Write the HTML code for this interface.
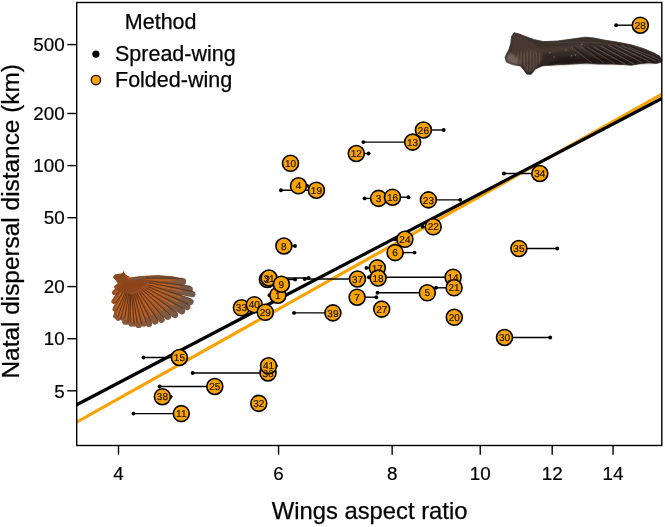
<!DOCTYPE html>
<html><head><meta charset="utf-8"><title>Wings aspect ratio vs natal dispersal distance</title>
<style>html,body{margin:0;padding:0;background:#fff}svg{display:block}</style></head>
<body>
<svg width="665" height="527" viewBox="0 0 665 527">
<rect width="665" height="527" fill="#fff"/>
<defs>
<filter id="bl" x="-5%" y="-5%" width="110%" height="110%"><feGaussianBlur stdDeviation="0.55"/></filter>
<filter id="bl3" x="-10%" y="-10%" width="120%" height="120%"><feGaussianBlur stdDeviation="1.1"/></filter>
<filter id="bl2" x="-5%" y="-5%" width="110%" height="110%"><feGaussianBlur stdDeviation="0.5"/></filter>
<linearGradient id="dg" x1="0" y1="0" x2="0" y2="1"><stop offset="0" stop-color="#41352f"/><stop offset="0.45" stop-color="#352b27"/><stop offset="1" stop-color="#261e1b"/></linearGradient>
<radialGradient id="sg" gradientUnits="userSpaceOnUse" cx="128" cy="281" r="70"><stop offset="0" stop-color="#964819"/><stop offset="0.45" stop-color="#99532a"/><stop offset="0.72" stop-color="#80583f"/><stop offset="1" stop-color="#705a4d"/></radialGradient>
</defs>
<g filter="url(#bl2)">
<path d="M514.1,32.7 L519.2,34.0 L525.6,36.5 L534.5,39.7 L543.5,41.6 L557.5,41.0 L571.6,39.1 L585.0,37.2 L592.8,37.8 L605.6,40.3 L618.4,42.3 L631.2,44.8 L643.9,48.7 L654.2,53.1 L659.9,56.3 L661.4,60.0 L661.2,62.1 L656.7,63.4 L649.1,62.7 L641.4,63.4 L631.2,65.3 L623.5,64.6 L612.0,64.0 L599.2,64.0 L586.4,63.1 L571.6,64.0 L557.5,64.6 L542.2,65.9 L535.2,69.1 L531.3,74.2 L526.9,74.2 L523.7,69.8 L520.5,65.9 L512.8,64.6 L506.4,62.1 L505.1,57.0 L509.0,49.3 L510.9,42.9 L511.5,36.5Z" fill="url(#dg)" stroke="#3a2f2b" stroke-width="0.8" stroke-linejoin="round"/>
<g filter="url(#bl3)">
<path d="M514,35 L522,37 L532,42 L540,47 L560,46 L585,43 L585,50 L560,52 L538,54 L530,60 L524,62 L514,58 L511,50 L512,42Z" fill="#4a3b35" opacity="0.8"/>
<path d="M506,57 L510,52 L515,56 L521,60 L520,65 L512.8,64.2 L506.8,61.8Z" fill="#75655f" opacity="0.9"/>
<path d="M517,54 L528,50 L541,52 L543,58 L538,66 L533,71 L528,73 L524,68 L520,63Z" fill="#5b473e" opacity="0.85"/>
<path d="M560,58 L600,57 L640,58 L658,60 L656,63 L620,64 L580,63.5 L548,65Z" fill="#1d1613" opacity="0.7"/>
</g>
<line x1="518.0" y1="51.0" x2="517.6" y2="65.7" stroke="#6a564c" stroke-width="0.8" opacity="0.6"/>
<line x1="519.5" y1="52.4" x2="518.6" y2="66.1" stroke="#2c221e" stroke-width="0.8" opacity="0.6"/>
<line x1="521.1" y1="50.1" x2="520.5" y2="67.2" stroke="#6a564c" stroke-width="0.8" opacity="0.6"/>
<line x1="522.6" y1="50.9" x2="522.4" y2="68.0" stroke="#2c221e" stroke-width="0.8" opacity="0.6"/>
<line x1="524.2" y1="53.3" x2="524.2" y2="65.4" stroke="#6a564c" stroke-width="0.8" opacity="0.6"/>
<line x1="525.8" y1="50.6" x2="526.1" y2="66.2" stroke="#2c221e" stroke-width="0.8" opacity="0.6"/>
<line x1="527.3" y1="52.1" x2="527.3" y2="70.7" stroke="#6a564c" stroke-width="0.8" opacity="0.6"/>
<line x1="528.9" y1="50.3" x2="528.7" y2="70.8" stroke="#2c221e" stroke-width="0.8" opacity="0.6"/>
<line x1="530.4" y1="51.2" x2="530.7" y2="67.2" stroke="#6a564c" stroke-width="0.8" opacity="0.6"/>
<line x1="532.0" y1="51.9" x2="532.3" y2="70.6" stroke="#2c221e" stroke-width="0.8" opacity="0.6"/>
<line x1="533.5" y1="52.9" x2="533.1" y2="71.6" stroke="#6a564c" stroke-width="0.8" opacity="0.6"/>
<line x1="535.0" y1="53.2" x2="535.5" y2="65.2" stroke="#2c221e" stroke-width="0.8" opacity="0.6"/>
<line x1="536.6" y1="53.5" x2="535.8" y2="63.5" stroke="#6a564c" stroke-width="0.8" opacity="0.6"/>
<line x1="538.1" y1="50.9" x2="537.8" y2="67.8" stroke="#2c221e" stroke-width="0.8" opacity="0.6"/>
<line x1="539.7" y1="52.5" x2="539.5" y2="64.5" stroke="#6a564c" stroke-width="0.8" opacity="0.6"/>
<line x1="541.2" y1="51.5" x2="541.1" y2="64.8" stroke="#2c221e" stroke-width="0.8" opacity="0.6"/>
<circle cx="549.9" cy="52.5" r="0.7" fill="#8d827c" opacity="0.8"/>
<circle cx="571.6" cy="55.7" r="0.7" fill="#8d827c" opacity="0.8"/>
<circle cx="575.4" cy="55" r="0.7" fill="#8d827c" opacity="0.8"/>
<circle cx="581.8" cy="44.2" r="0.7" fill="#8d827c" opacity="0.8"/>
<circle cx="554" cy="57" r="0.7" fill="#8d827c" opacity="0.8"/>
<circle cx="566" cy="50" r="0.7" fill="#8d827c" opacity="0.8"/>
<line x1="622" y1="45.5" x2="656" y2="61" stroke="#756b62" stroke-width="0.9" opacity="0.75"/>
<line x1="625" y1="45.5" x2="659" y2="61" stroke="#15110f" stroke-width="1.2" opacity="0.5"/>
<line x1="615" y1="45" x2="650" y2="62" stroke="#756b62" stroke-width="0.9" opacity="0.75"/>
<line x1="618" y1="45" x2="653" y2="62" stroke="#15110f" stroke-width="1.2" opacity="0.5"/>
<line x1="608" y1="45" x2="642" y2="62.5" stroke="#756b62" stroke-width="0.9" opacity="0.75"/>
<line x1="611" y1="45" x2="645" y2="62.5" stroke="#15110f" stroke-width="1.2" opacity="0.5"/>
<line x1="601" y1="46" x2="634" y2="64" stroke="#756b62" stroke-width="0.9" opacity="0.75"/>
<line x1="604" y1="46" x2="637" y2="64" stroke="#15110f" stroke-width="1.2" opacity="0.5"/>
<line x1="594" y1="47" x2="625" y2="64" stroke="#756b62" stroke-width="0.9" opacity="0.75"/>
<line x1="597" y1="47" x2="628" y2="64" stroke="#15110f" stroke-width="1.2" opacity="0.5"/>
<line x1="587" y1="47" x2="615" y2="63.5" stroke="#756b62" stroke-width="0.9" opacity="0.5"/>
<line x1="590" y1="47" x2="618" y2="63.5" stroke="#15110f" stroke-width="1.2" opacity="0.5"/>
<line x1="628" y1="46.5" x2="660" y2="60" stroke="#756b62" stroke-width="0.9" opacity="0.5"/>
<line x1="631" y1="46.5" x2="663" y2="60" stroke="#15110f" stroke-width="1.2" opacity="0.5"/>
<line x1="580" y1="46" x2="604" y2="63" stroke="#756b62" stroke-width="0.9" opacity="0.5"/>
<line x1="583" y1="46" x2="607" y2="63" stroke="#15110f" stroke-width="1.2" opacity="0.5"/>
<line x1="571" y1="47" x2="592" y2="63" stroke="#756b62" stroke-width="0.9" opacity="0.5"/>
<line x1="574" y1="47" x2="595" y2="63" stroke="#15110f" stroke-width="1.2" opacity="0.5"/>
<path d="M545,44 Q570,41 600,43 Q630,47 655,57" fill="none" stroke="#4d433e" stroke-width="1.2" opacity="0.7"/>
</g>
<g filter="url(#bl)">
<path d="M113.0,277.0 L115.6,274.3 L122.3,273.6 L123.6,271.0 L124.9,274.3 L130.2,277.6 L138.2,276.3 L148.8,275.4 L158.3,275.0 L171.6,276.3 L180.9,278.3 L174.6,281.5 L179.8,287.9 L182.0,292.1 L180.4,298.4 L177.8,302.8 L173.4,306.4 L167.6,309.6 L161.8,311.2 L156.5,313.9 L151.2,315.5 L145.8,317.6 L141.6,317.4 L137.2,318.7 L133.6,317.5 L130.9,317.6 L127.6,316.0 L125.5,316.0 L122.8,312.6 L119.7,312.8 L117.4,311.0 L116.8,305.4 L115.6,299.0 L115.6,291.6 L117.2,286.8 L117.6,282.9 L115.0,279.6Z" fill="url(#sg)"/>
<path d="M130,278 Q150,274.5 171.6,276.3 L180.9,278.3 L186.2,281.6 L175,281 Q150,279 130,281Z" fill="#7a5238"/>
<line x1="145.5" y1="281.2" x2="182.7" y2="281.6" stroke="url(#sg)" stroke-width="7" stroke-linecap="round"/>
<line x1="145.5" y1="278.0" x2="182.7" y2="278.3" stroke="#452818" stroke-width="1.0" opacity="0.7"/>
<line x1="145.5" y1="279.9" x2="174.6" y2="280.2" stroke="#d0661a" stroke-width="1.3" opacity="0.8"/>
<line x1="147.4" y1="283.6" x2="189.6" y2="289.2" stroke="url(#sg)" stroke-width="6.5" stroke-linecap="round"/>
<line x1="147.8" y1="280.6" x2="190.0" y2="286.2" stroke="#452818" stroke-width="1.0" opacity="0.7"/>
<line x1="147.6" y1="282.4" x2="180.0" y2="286.7" stroke="#d0661a" stroke-width="1.3" opacity="0.8"/>
<line x1="148.2" y1="285.2" x2="192.6" y2="294.3" stroke="url(#sg)" stroke-width="6" stroke-linecap="round"/>
<line x1="148.8" y1="282.5" x2="193.1" y2="291.6" stroke="#452818" stroke-width="1.0" opacity="0.7"/>
<line x1="148.5" y1="284.1" x2="182.2" y2="291.1" stroke="#d0661a" stroke-width="1.3" opacity="0.8"/>
<line x1="147.7" y1="287.5" x2="190.4" y2="301.8" stroke="url(#sg)" stroke-width="6.5" stroke-linecap="round"/>
<line x1="148.6" y1="284.7" x2="191.4" y2="298.9" stroke="#452818" stroke-width="1.0" opacity="0.7"/>
<line x1="148.0" y1="286.4" x2="180.8" y2="297.3" stroke="#d0661a" stroke-width="1.3" opacity="0.8"/>
<line x1="146.7" y1="289.2" x2="187.2" y2="306.9" stroke="url(#sg)" stroke-width="6.5" stroke-linecap="round"/>
<line x1="147.9" y1="286.4" x2="188.4" y2="304.2" stroke="#452818" stroke-width="1.0" opacity="0.7"/>
<line x1="147.1" y1="288.1" x2="178.2" y2="301.7" stroke="#d0661a" stroke-width="1.3" opacity="0.8"/>
<line x1="145.0" y1="290.5" x2="182.0" y2="311.2" stroke="url(#sg)" stroke-width="6.5" stroke-linecap="round"/>
<line x1="146.5" y1="287.9" x2="183.4" y2="308.6" stroke="#452818" stroke-width="1.0" opacity="0.7"/>
<line x1="145.6" y1="289.5" x2="174.0" y2="305.4" stroke="#d0661a" stroke-width="1.3" opacity="0.8"/>
<line x1="142.8" y1="291.7" x2="174.9" y2="314.9" stroke="url(#sg)" stroke-width="6.5" stroke-linecap="round"/>
<line x1="144.6" y1="289.3" x2="176.6" y2="312.5" stroke="#452818" stroke-width="1.0" opacity="0.7"/>
<line x1="143.5" y1="290.8" x2="168.3" y2="308.7" stroke="#d0661a" stroke-width="1.3" opacity="0.8"/>
<line x1="140.7" y1="292.3" x2="167.8" y2="316.6" stroke="url(#sg)" stroke-width="6.5" stroke-linecap="round"/>
<line x1="142.7" y1="290.1" x2="169.8" y2="314.4" stroke="#452818" stroke-width="1.0" opacity="0.7"/>
<line x1="141.4" y1="291.5" x2="162.5" y2="310.4" stroke="#d0661a" stroke-width="1.3" opacity="0.8"/>
<line x1="138.7" y1="293.3" x2="161.5" y2="319.6" stroke="url(#sg)" stroke-width="6.5" stroke-linecap="round"/>
<line x1="140.9" y1="291.4" x2="163.7" y2="317.7" stroke="#452818" stroke-width="1.0" opacity="0.7"/>
<line x1="139.6" y1="292.6" x2="157.4" y2="313.1" stroke="#d0661a" stroke-width="1.3" opacity="0.8"/>
<line x1="136.7" y1="293.9" x2="155.2" y2="321.4" stroke="url(#sg)" stroke-width="6.5" stroke-linecap="round"/>
<line x1="139.2" y1="292.3" x2="157.7" y2="319.7" stroke="#452818" stroke-width="1.0" opacity="0.7"/>
<line x1="137.7" y1="293.3" x2="152.2" y2="314.8" stroke="#d0661a" stroke-width="1.3" opacity="0.8"/>
<line x1="134.7" y1="294.7" x2="148.9" y2="323.9" stroke="url(#sg)" stroke-width="6.5" stroke-linecap="round"/>
<line x1="137.4" y1="293.4" x2="151.6" y2="322.6" stroke="#452818" stroke-width="1.0" opacity="0.7"/>
<line x1="135.7" y1="294.2" x2="146.9" y2="317.1" stroke="#d0661a" stroke-width="1.3" opacity="0.8"/>
<line x1="133.1" y1="294.6" x2="144.0" y2="323.7" stroke="url(#sg)" stroke-width="6" stroke-linecap="round"/>
<line x1="135.7" y1="293.7" x2="146.5" y2="322.7" stroke="#452818" stroke-width="1.0" opacity="0.7"/>
<line x1="134.1" y1="294.3" x2="144.3" y2="321.6" stroke="#d0661a" stroke-width="1.3" opacity="0.8"/>
<line x1="131.4" y1="295.1" x2="138.7" y2="324.9" stroke="url(#sg)" stroke-width="6.5" stroke-linecap="round"/>
<line x1="134.4" y1="294.4" x2="141.6" y2="324.2" stroke="#452818" stroke-width="1.0" opacity="0.7"/>
<line x1="132.6" y1="294.9" x2="139.5" y2="323.1" stroke="#d0661a" stroke-width="1.3" opacity="0.8"/>
<line x1="130.1" y1="294.7" x2="134.5" y2="323.6" stroke="url(#sg)" stroke-width="6" stroke-linecap="round"/>
<line x1="132.8" y1="294.3" x2="137.3" y2="323.2" stroke="#452818" stroke-width="1.0" opacity="0.7"/>
<line x1="131.2" y1="294.5" x2="135.4" y2="321.9" stroke="#d0661a" stroke-width="1.3" opacity="0.8"/>
<line x1="129.1" y1="294.7" x2="131.4" y2="323.8" stroke="url(#sg)" stroke-width="6" stroke-linecap="round"/>
<line x1="131.8" y1="294.5" x2="134.1" y2="323.6" stroke="#452818" stroke-width="1.0" opacity="0.7"/>
<line x1="130.2" y1="294.7" x2="132.3" y2="322.1" stroke="#d0661a" stroke-width="1.3" opacity="0.8"/>
<line x1="127.8" y1="294.1" x2="127.5" y2="321.8" stroke="url(#sg)" stroke-width="6" stroke-linecap="round"/>
<line x1="130.6" y1="294.2" x2="130.3" y2="321.8" stroke="#452818" stroke-width="1.0" opacity="0.7"/>
<line x1="128.9" y1="294.2" x2="128.6" y2="320.4" stroke="#d0661a" stroke-width="1.3" opacity="0.8"/>
<line x1="127.1" y1="294.1" x2="125.1" y2="321.8" stroke="url(#sg)" stroke-width="6" stroke-linecap="round"/>
<line x1="129.8" y1="294.3" x2="127.9" y2="322.0" stroke="#452818" stroke-width="1.0" opacity="0.7"/>
<line x1="128.1" y1="294.2" x2="126.3" y2="320.5" stroke="#d0661a" stroke-width="1.3" opacity="0.8"/>
<line x1="126.0" y1="292.9" x2="122.0" y2="317.5" stroke="url(#sg)" stroke-width="6" stroke-linecap="round"/>
<line x1="128.8" y1="293.3" x2="124.7" y2="318.0" stroke="#452818" stroke-width="1.0" opacity="0.7"/>
<line x1="127.1" y1="293.0" x2="123.2" y2="316.7" stroke="#d0661a" stroke-width="1.3" opacity="0.8"/>
<line x1="124.9" y1="292.9" x2="118.3" y2="318.1" stroke="url(#sg)" stroke-width="5.5" stroke-linecap="round"/>
<line x1="127.3" y1="293.6" x2="120.7" y2="318.8" stroke="#452818" stroke-width="1.0" opacity="0.7"/>
<line x1="125.8" y1="293.2" x2="119.6" y2="317.1" stroke="#d0661a" stroke-width="1.3" opacity="0.8"/>
<line x1="124.0" y1="292.2" x2="115.6" y2="316.1" stroke="url(#sg)" stroke-width="5" stroke-linecap="round"/>
<line x1="126.2" y1="293.0" x2="117.8" y2="316.9" stroke="#452818" stroke-width="1.0" opacity="0.7"/>
<line x1="124.9" y1="292.5" x2="117.0" y2="315.0" stroke="#d0661a" stroke-width="1.3" opacity="0.8"/>
<line x1="123.8" y1="290.1" x2="115.0" y2="309.2" stroke="url(#sg)" stroke-width="5" stroke-linecap="round"/>
<line x1="125.9" y1="291.1" x2="117.1" y2="310.2" stroke="#452818" stroke-width="1.0" opacity="0.7"/>
<line x1="124.6" y1="290.5" x2="116.2" y2="308.8" stroke="#d0661a" stroke-width="1.3" opacity="0.8"/>
<line x1="123.3" y1="287.8" x2="113.9" y2="301.4" stroke="url(#sg)" stroke-width="5" stroke-linecap="round"/>
<line x1="125.2" y1="289.1" x2="115.8" y2="302.7" stroke="#452818" stroke-width="1.0" opacity="0.7"/>
<line x1="124.1" y1="288.3" x2="114.8" y2="301.8" stroke="#d0661a" stroke-width="1.3" opacity="0.8"/>
<line x1="123.3" y1="285.0" x2="114.4" y2="292.6" stroke="url(#sg)" stroke-width="5" stroke-linecap="round"/>
<line x1="124.8" y1="286.7" x2="115.9" y2="294.3" stroke="#452818" stroke-width="1.0" opacity="0.7"/>
<line x1="123.9" y1="285.6" x2="114.6" y2="293.6" stroke="#d0661a" stroke-width="1.3" opacity="0.8"/>
<line x1="124.0" y1="283.2" x2="116.7" y2="287.0" stroke="url(#sg)" stroke-width="5" stroke-linecap="round"/>
<line x1="125.0" y1="285.2" x2="117.8" y2="289.1" stroke="#452818" stroke-width="1.0" opacity="0.7"/>
<line x1="124.4" y1="284.0" x2="116.3" y2="288.3" stroke="#d0661a" stroke-width="1.3" opacity="0.8"/>
<path d="M113,277 L115.6,274.3 L122.3,273.6 L123.6,271 L124.9,274.3 L130.2,277.6 L127,281 L120,283 L115,279.6Z" fill="#8a4a22"/>
<circle cx="128.6" cy="277.6" r="1.3" fill="#e0521a"/>
<path d="M118,285 Q135,278 152,280 Q142,289 128,294 Q120,294 116,289Z" fill="#8b4420" opacity="0.85"/>
</g>
<clipPath id="pc"><rect x="76.7" y="2.5" width="585.0999999999999" height="443.0"/></clipPath>
<g clip-path="url(#pc)">
<line x1="71.7" y1="424.9" x2="666.8" y2="91.5" stroke="#FAA307" stroke-width="3.2"/>
<line x1="71.7" y1="407.32" x2="666.8" y2="95.88" stroke="#000" stroke-width="3.2"/>
</g>
<g stroke="#000" stroke-width="1.4" fill="#000">
<line x1="277.9" y1="295.2" x2="269.5" y2="295.2"/>
<line x1="267.4" y1="279.5" x2="295.1" y2="279.5"/>
<line x1="378.6" y1="198.4" x2="364.6" y2="198.4"/>
<line x1="298.5" y1="185.8" x2="307" y2="185.8"/>
<line x1="427.3" y1="292.8" x2="377.5" y2="292.8"/>
<line x1="395.1" y1="252.6" x2="414.5" y2="252.6"/>
<line x1="357.1" y1="297.2" x2="376.3" y2="297.2"/>
<line x1="283.9" y1="246" x2="295" y2="246"/>
<line x1="181.3" y1="413.6" x2="133.5" y2="413.6"/>
<line x1="356.3" y1="153.5" x2="368.6" y2="153.5"/>
<line x1="412.6" y1="142.1" x2="363.4" y2="142.1"/>
<line x1="453.1" y1="277.2" x2="368.9" y2="277.2"/>
<line x1="179.4" y1="357.5" x2="143.5" y2="357.5"/>
<line x1="392.5" y1="197.2" x2="408.4" y2="197.2"/>
<line x1="377.3" y1="267.9" x2="366.5" y2="267.9"/>
<line x1="316.4" y1="190.2" x2="281" y2="190.2"/>
<line x1="454.1" y1="287.8" x2="436.1" y2="287.8"/>
<line x1="433.2" y1="226.8" x2="422.6" y2="226.8"/>
<line x1="428.4" y1="199.9" x2="460.3" y2="199.9"/>
<line x1="404.9" y1="239.3" x2="395.2" y2="239.3"/>
<line x1="214.8" y1="386.5" x2="159.6" y2="386.5"/>
<line x1="423.4" y1="130" x2="443.7" y2="130"/>
<line x1="640.3" y1="25.2" x2="616.1" y2="25.2"/>
<line x1="504.5" y1="337.5" x2="550.2" y2="337.5"/>
<line x1="269" y1="278" x2="308.6" y2="278"/>
<line x1="539.8" y1="173.5" x2="503.9" y2="173.5"/>
<line x1="518.9" y1="248.5" x2="557.2" y2="248.5"/>
<line x1="268" y1="373" x2="192.6" y2="373"/>
<line x1="357.5" y1="279" x2="304.7" y2="279"/>
<line x1="162.4" y1="396.7" x2="170.6" y2="396.7"/>
<line x1="332.9" y1="312.9" x2="294" y2="312.9"/>
<line x1="268.5" y1="365.8" x2="276" y2="365.8"/>
<circle cx="269.5" cy="295.2" r="1.95" stroke="none"/>
<circle cx="295.1" cy="279.5" r="1.95" stroke="none"/>
<circle cx="364.6" cy="198.4" r="1.95" stroke="none"/>
<circle cx="307" cy="185.8" r="1.95" stroke="none"/>
<circle cx="377.5" cy="292.8" r="1.95" stroke="none"/>
<circle cx="414.5" cy="252.6" r="1.95" stroke="none"/>
<circle cx="376.3" cy="297.2" r="1.95" stroke="none"/>
<circle cx="295" cy="246" r="1.95" stroke="none"/>
<circle cx="133.5" cy="413.6" r="1.95" stroke="none"/>
<circle cx="368.6" cy="153.5" r="1.95" stroke="none"/>
<circle cx="363.4" cy="142.1" r="1.95" stroke="none"/>
<circle cx="368.9" cy="277.2" r="1.95" stroke="none"/>
<circle cx="143.5" cy="357.5" r="1.95" stroke="none"/>
<circle cx="408.4" cy="197.2" r="1.95" stroke="none"/>
<circle cx="366.5" cy="267.9" r="1.95" stroke="none"/>
<circle cx="281" cy="190.2" r="1.95" stroke="none"/>
<circle cx="436.1" cy="287.8" r="1.95" stroke="none"/>
<circle cx="422.6" cy="226.8" r="1.95" stroke="none"/>
<circle cx="460.3" cy="199.9" r="1.95" stroke="none"/>
<circle cx="395.2" cy="239.3" r="1.95" stroke="none"/>
<circle cx="159.6" cy="386.5" r="1.95" stroke="none"/>
<circle cx="443.7" cy="130" r="1.95" stroke="none"/>
<circle cx="616.1" cy="25.2" r="1.95" stroke="none"/>
<circle cx="550.2" cy="337.5" r="1.95" stroke="none"/>
<circle cx="308.6" cy="278" r="1.95" stroke="none"/>
<circle cx="503.9" cy="173.5" r="1.95" stroke="none"/>
<circle cx="557.2" cy="248.5" r="1.95" stroke="none"/>
<circle cx="192.6" cy="373" r="1.95" stroke="none"/>
<circle cx="304.7" cy="279" r="1.95" stroke="none"/>
<circle cx="170.6" cy="396.7" r="1.95" stroke="none"/>
<circle cx="294" cy="312.9" r="1.95" stroke="none"/>
<circle cx="276" cy="365.8" r="1.95" stroke="none"/>
</g>
<g fill="#FAA307" stroke="#000" stroke-width="1.6">
<circle cx="268" cy="373" r="8"/>
<circle cx="268.5" cy="365.8" r="8"/>
<circle cx="267.4" cy="279.5" r="8"/>
<circle cx="269" cy="278" r="8"/>
<circle cx="277.9" cy="295.2" r="8"/>
<circle cx="281.4" cy="284.2" r="8"/>
<circle cx="241.4" cy="307.8" r="8"/>
<circle cx="254.3" cy="304.7" r="8"/>
<circle cx="265.3" cy="312.3" r="8"/>
<circle cx="378.6" cy="198.4" r="8"/>
<circle cx="392.5" cy="197.2" r="8"/>
<circle cx="423.4" cy="130" r="8"/>
<circle cx="412.6" cy="142.1" r="8"/>
<circle cx="377.3" cy="267.9" r="8"/>
<circle cx="378.1" cy="278" r="8"/>
<circle cx="357.5" cy="279" r="8"/>
<circle cx="453.1" cy="277.2" r="8"/>
<circle cx="454.1" cy="287.8" r="8"/>
<circle cx="427.3" cy="292.8" r="8"/>
<circle cx="357.1" cy="297.2" r="8"/>
<circle cx="381.7" cy="309.1" r="8"/>
<circle cx="454.3" cy="317.3" r="8"/>
<circle cx="395.1" cy="252.6" r="8"/>
<circle cx="404.9" cy="239.3" r="8"/>
<circle cx="433.2" cy="226.8" r="8"/>
<circle cx="298.5" cy="185.8" r="8"/>
<circle cx="316.4" cy="190.2" r="8"/>
<circle cx="290.5" cy="163.3" r="8"/>
<circle cx="356.3" cy="153.5" r="8"/>
<circle cx="428.4" cy="199.9" r="8"/>
<circle cx="283.9" cy="246" r="8"/>
<circle cx="181.3" cy="413.6" r="8"/>
<circle cx="162.4" cy="396.7" r="8"/>
<circle cx="214.8" cy="386.5" r="8"/>
<circle cx="179.4" cy="357.5" r="8"/>
<circle cx="258.8" cy="403.4" r="8"/>
<circle cx="332.9" cy="312.9" r="8"/>
<circle cx="504.5" cy="337.5" r="8"/>
<circle cx="518.9" cy="248.5" r="8"/>
<circle cx="539.8" cy="173.5" r="8"/>
<circle cx="640.3" cy="25.2" r="8"/>
</g>
<g font-family="Liberation Sans, Arial, sans-serif" font-size="10" fill="#1a1200" stroke="#1a1200" stroke-width="0.2" text-rendering="geometricPrecision" text-anchor="middle">
<text x="268" y="376.6">36</text>
<text x="268.5" y="369.4">41</text>
<text x="267.4" y="283.1">2</text>
<text x="269" y="281.6">31</text>
<text x="277.9" y="298.8">1</text>
<text x="281.4" y="287.8">9</text>
<text x="241.4" y="311.4">33</text>
<text x="254.3" y="308.3">40</text>
<text x="265.3" y="315.9">29</text>
<text x="378.6" y="202">3</text>
<text x="392.5" y="200.8">16</text>
<text x="423.4" y="133.6">26</text>
<text x="412.6" y="145.7">13</text>
<text x="377.3" y="271.5">17</text>
<text x="378.1" y="281.6">18</text>
<text x="357.5" y="282.6">37</text>
<text x="453.1" y="280.8">14</text>
<text x="454.1" y="291.4">21</text>
<text x="427.3" y="296.4">5</text>
<text x="357.1" y="300.8">7</text>
<text x="381.7" y="312.7">27</text>
<text x="454.3" y="320.9">20</text>
<text x="395.1" y="256.2">6</text>
<text x="404.9" y="242.9">24</text>
<text x="433.2" y="230.4">22</text>
<text x="298.5" y="189.4">4</text>
<text x="316.4" y="193.8">19</text>
<text x="290.5" y="166.9">10</text>
<text x="356.3" y="157.1">12</text>
<text x="428.4" y="203.5">23</text>
<text x="283.9" y="249.6">8</text>
<text x="181.3" y="417.2">11</text>
<text x="162.4" y="400.3">38</text>
<text x="214.8" y="390.1">25</text>
<text x="179.4" y="361.1">15</text>
<text x="258.8" y="407">32</text>
<text x="332.9" y="316.5">39</text>
<text x="504.5" y="341.1">30</text>
<text x="518.9" y="252.1">35</text>
<text x="539.8" y="177.1">34</text>
<text x="640.3" y="28.8">28</text>
</g>
<rect x="76.7" y="2.5" width="585.0999999999999" height="443.0" fill="none" stroke="#000" stroke-width="1.4"/>
<g stroke="#000" stroke-width="1.4">
<line x1="67.3" y1="44.6" x2="76.7" y2="44.6"/>
<line x1="67.3" y1="113.48" x2="76.7" y2="113.48"/>
<line x1="67.3" y1="165.59" x2="76.7" y2="165.59"/>
<line x1="67.3" y1="217.7" x2="76.7" y2="217.7"/>
<line x1="67.3" y1="286.58" x2="76.7" y2="286.58"/>
<line x1="67.3" y1="338.69" x2="76.7" y2="338.69"/>
<line x1="67.3" y1="390.8" x2="76.7" y2="390.8"/>
<line x1="118.5" y1="445.5" x2="118.5" y2="454.7"/>
<line x1="278.57" y1="445.5" x2="278.57" y2="454.7"/>
<line x1="392.14" y1="445.5" x2="392.14" y2="454.7"/>
<line x1="480.23" y1="445.5" x2="480.23" y2="454.7"/>
<line x1="552.2" y1="445.5" x2="552.2" y2="454.7"/>
<line x1="613.06" y1="445.5" x2="613.06" y2="454.7"/>
</g>
<g font-family="Liberation Sans, Arial, sans-serif" font-size="18.8" fill="#000" stroke="#000" stroke-width="0.2">
<text x="64.7" y="51.3" text-anchor="end">500</text>
<text x="64.7" y="120.18" text-anchor="end">200</text>
<text x="64.7" y="172.29" text-anchor="end">100</text>
<text x="64.7" y="224.4" text-anchor="end">50</text>
<text x="64.7" y="293.28" text-anchor="end">20</text>
<text x="64.7" y="345.39" text-anchor="end">10</text>
<text x="64.7" y="397.5" text-anchor="end">5</text>
<text x="118.5" y="479.9" text-anchor="middle">4</text>
<text x="278.57" y="479.9" text-anchor="middle">6</text>
<text x="392.14" y="479.9" text-anchor="middle">8</text>
<text x="480.23" y="479.9" text-anchor="middle">10</text>
<text x="552.2" y="479.9" text-anchor="middle">12</text>
<text x="613.06" y="479.9" text-anchor="middle">14</text>
</g>
<g font-family="Liberation Sans, Arial, sans-serif" fill="#000" stroke="#000" stroke-width="0.25">
<text x="369.6" y="519.1" font-size="23.8" text-anchor="middle">Wings aspect ratio</text>
<text transform="translate(19.2,221.3) rotate(-90)" font-size="24.4" text-anchor="middle">Natal dispersal distance (km)</text>
<text x="124.8" y="28.7" font-size="21.5">Method</text>
<text x="115" y="61.1" font-size="21.5">Spread-wing</text>
<text x="115" y="87.2" font-size="21.5">Folded-wing</text>
</g>
<circle cx="95.9" cy="54.1" r="3.6" fill="#000"/>
<circle cx="95.9" cy="80.1" r="4.7" fill="#FAA307" stroke="#000" stroke-width="1.2"/>
</svg>
</body></html>
